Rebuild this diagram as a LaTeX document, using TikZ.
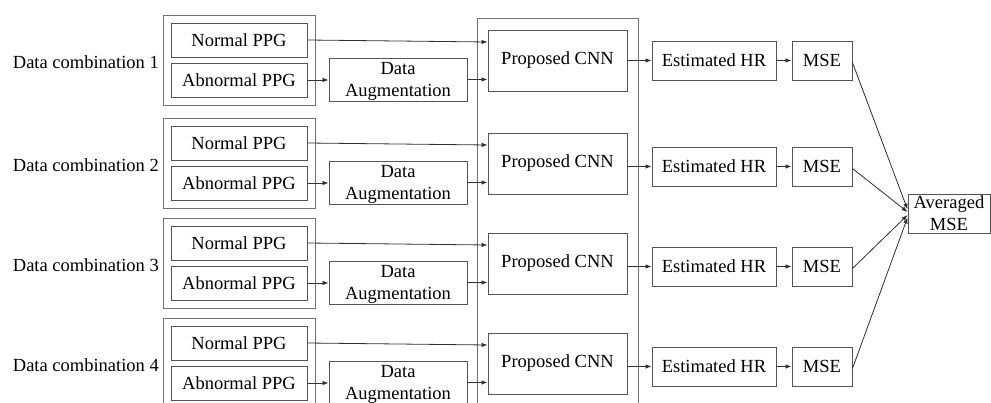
\documentclass[tikz,border=0pt]{standalone}
\usepackage{fontspec}
\setmainfont{Liberation Serif}
\usetikzlibrary{arrows.meta,calc}
\definecolor{boxgray}{HTML}{555555}
\definecolor{outgray}{HTML}{707070}
\definecolor{linegray}{HTML}{303030}
\begin{document}
\begin{tikzpicture}[x=1pt,y=-1pt,
  every node/.style={font=\fontsize{18.5}{22}\selectfont, inner sep=0pt, align=center},
  bx/.style={draw=boxgray, line width=0.9pt, rectangle},
  obx/.style={draw=outgray, line width=0.9pt, rectangle},
  grp/.style={obx, minimum width=152pt, minimum height=90pt},
  ppg/.style={bx, minimum width=136pt, minimum height=34pt},
  dabox/.style={bx, minimum width=138pt, minimum height=43pt},
  cnn/.style={bx, minimum width=139pt, minimum height=61pt},
  est/.style={bx, minimum width=124pt, minimum height=39pt},
  msebox/.style={bx, minimum width=60pt, minimum height=39pt},
  arr/.style={draw=linegray, line width=0.8pt, -{Latex[length=6pt,width=4.5pt]}}
]
\useasboundingbox (0,0) rectangle (991,403);
\clip (0,0) rectangle (991,403);
\node[obx, minimum width=161pt, minimum height=402pt] (cnnbox) at (557.5,219) {};
\node[bx, minimum width=82pt, minimum height=39pt] (avg) at (949,213.5) {Averaged\\MSE};
\foreach \i/\o/\e/\d in {1/0/0/-4,2/103/106/-1.5,3/203/206/1.5,4/303/306/4}{
  \node[grp] (g\i) at (239,60+\o) {};
  \node[ppg] (n\i) at (239,40+\o) {Normal PPG};
  \node[ppg] (a\i) at (239,80+\o) {Abnormal PPG};
  \node[anchor=east] (l\i) at (159,62+\o) {Data combination \i};
  \node[dabox] (d\i) at (398,79.5+\o) {};
  \node (dt\i) at (398,81.5+\o) {Data\\Augmentation};
  \node[cnn] (c\i) at (557.5,60.5+\o) {Proposed CNN};
  \node[est] (e\i) at (714,60.5+\e) {Estimated HR};
  \node[msebox] (m\i) at (822,60.5+\e) {MSE};
  \draw[arr] (n\i.east) -- ($(c\i.west)+(0,-18.5)$);
  \draw[arr] (a\i.east) -- (a\i.east -| d\i.west);
  \draw[arr] (d\i.east) -- (d\i.east -| c\i.west);
  \draw[arr] (c\i.east |- e\i.west) -- (e\i.west);
  \draw[arr] (e\i.east) -- (m\i.west);
  \draw[arr] ($(m\i.east)+(0,2)$) -- ($(avg.west)+(0,\d)$);
}
\end{tikzpicture}
\end{document}
